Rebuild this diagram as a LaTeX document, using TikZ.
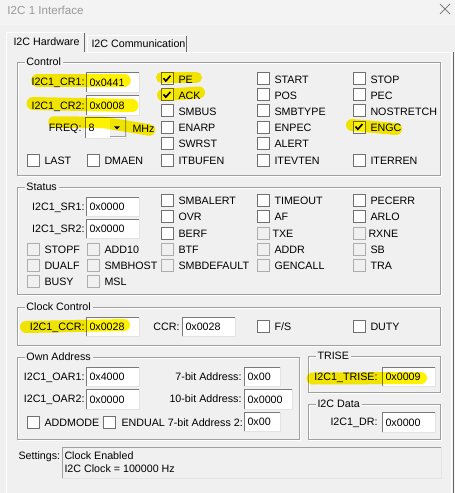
\documentclass[tikz,border=0pt]{standalone}
\usepackage{fontspec}
\setmainfont{Liberation Sans}
\usetikzlibrary{calc}
\definecolor{bg}{HTML}{F0F0F0}
\definecolor{titlebg}{HTML}{F3F3F3}
\definecolor{grp}{HTML}{A0A0A0}
\definecolor{edark}{HTML}{7A7A7A}
\definecolor{elight}{HTML}{E3E3E3}
\definecolor{cbdark}{HTML}{707070}
\definecolor{cbdisc}{HTML}{ADADAD}
\definecolor{hl}{RGB}{255,242,0}
\definecolor{titletxt}{HTML}{999999}
\definecolor{tabdark}{HTML}{696969}

\newcommand\mylabelqueue{}
% checkbox: [label offset]{name}{x left}{y center}{label}{style}
\newcommand\mycb[6][17]{%
  \node[minimum size=11pt] (#2) at (#3+6,#4) {};
  \path[#6] (#2.south west) rectangle (#2.north east);
  \expandafter\gdef\expandafter\mylabelqueue\expandafter{\mylabelqueue
    \node[anchor=base west] (#2l) at (#3+#1,{round(#4+3.8)}) {#5};}}
\newcommand\mycheck[1]{%
  \draw[line width=1.6pt] ($(#1.center)+(-3.5,-0.5)$) -- ($(#1.center)+(-1.2,2.3)$) -- ($(#1.center)+(3.5,-3)$);}
% edit: {name}{x1}{y1}{x2}{y2}{text}
\newcommand\myedit[6]{%
  \node[minimum width={#4-#2},minimum height={#5-#3},anchor=north west] (#1) at (#2,#3) {};
  \path[editbox] (#1.south west) rectangle (#1.north east);
  \draw[edark] (#1.south west) -- (#1.north west) -- (#1.north east);
  \node[anchor=base west] (#1t) at ($(#1.west)+(3,4)$) {#6};}
% group: {name}{x1}{y1}{x2}{y2}{title}
\newcommand\mygroup[6]{%
  \draw[white] (#2+1,#3+1) rectangle (#4+1,#5+1);
  \draw[grp] (#2,#3) rectangle (#4,#5);
  \node[fill=bg,inner xsep=2pt,inner ysep=1.5pt,anchor=base west] (#1) at (#2+7,#3+3.8) {#6};}

\begin{document}
\begin{tikzpicture}[x=1pt,y=-1pt,line width=1pt,
  every node/.style={inner sep=0pt,text=black,font=\fontsize{10.7}{12.8}\selectfont},
  cben/.style={draw=cbdark,fill=white},
  cbdis/.style={draw=cbdisc,fill=bg},
  editbox/.style={draw=elight,fill=white}]
\useasboundingbox (0,0) rectangle (455,493);
\fill[bg] (0,0) rectangle (455,493);
\fill[titlebg] (0,0) rectangle (455,25);
\node[anchor=base west,font=\fontsize{11.6}{14}\selectfont,text=titletxt] (title) at (7,14) {I2C 1 Interface};
\draw[gray,line width=0.8pt] (440,4) -- (450,14) (440,14) -- (450,4);

% tabs and panel
\draw[white] (6,493) -- (6,32) -- (84,32);
\draw[tabdark] (84.5,33) -- (84.5,52);
\draw[white] (87,52) -- (87,35) -- (185,35);
\draw[tabdark] (186,36) -- (186,52);
\draw[white] (85,52) -- (452,52);
\draw[white] (451,53) -- (451,493);
\draw[tabdark] (453,52) -- (453,493);
\node[anchor=base west] (tab1) at (13,45.5) {I2C Hardware};
\node[anchor=base west] (tab2) at (91,47.3) {I2C Communication};

% groups
\mygroup{gctl}{17}{62}{440}{175}{Control}
\mygroup{gsts}{17}{187}{440}{294}{Status}
\mygroup{gclk}{17}{307}{440}{345}{Clock Control}
\mygroup{gown}{17}{357}{299}{439}{Own Address}
\mygroup{gtrise}{308}{356}{440}{392}{TRISE}
\mygroup{gdata}{308}{404}{440}{439}{I2C Data}

% Control
\node[anchor=base east] (lcr1) at (85,85.5) {I2C1\_CR1:};
\myedit{ecr1}{86}{72}{138}{91}{0x0441}
\node[anchor=base east] (lcr2) at (85,109) {I2C1\_CR2:};
\myedit{ecr2}{86}{95}{138}{114}{0x0008}
\node[anchor=base east] (lfreq) at (82,131.5) {FREQ:};
\node[minimum width=40,minimum height=20,anchor=north west] (cfreq) at (85,117) {};
\path[editbox] (cfreq.south west) rectangle (cfreq.north east);
\draw[edark] (cfreq.south west) -- (cfreq.north west) -- (cfreq.north east);
\node[anchor=base west] (cfreqt) at (88,131.5) {8};
\node[minimum width=15,minimum height=17,anchor=north west] (cbtn) at (109,118.5) {};
\path[fill=bg,draw=grp] (cbtn.south west) rectangle (cbtn.north east);
\draw[white] (cbtn.south west) -- (cbtn.north west) -- (cbtn.north east);
\fill[black] ($(cbtn.center)+(-3,-1.2)$) -- ($(cbtn.center)+(3,-1.2)$) -- ($(cbtn.center)+(0,2)$) -- cycle;
\node[anchor=base west] (lmhz) at (132,132) {MHz};

\mycb{cbPE}{161}{78.7}{PE}{cben}
\mycb{cbACK}{161}{94.8}{ACK}{cben}
\mycb{cbSMBUS}{161}{110.9}{SMBUS}{cben}
\mycb{cbENARP}{161}{127}{ENARP}{cben}
\mycb{cbSWRST}{161}{143.1}{SWRST}{cben}
\mycb{cbSTART}{257}{78.7}{START}{cben}
\mycb{cbPOS}{257}{94.8}{POS}{cben}
\mycb{cbSMBTYPE}{257}{110.9}{SMBTYPE}{cben}
\mycb{cbENPEC}{257}{127}{ENPEC}{cben}
\mycb{cbALERT}{257}{143.1}{ALERT}{cben}
\mycb{cbSTOP}{353}{78.7}{STOP}{cben}
\mycb{cbPEC}{353}{94.8}{PEC}{cben}
\mycb{cbNOSTRETCH}{353}{110.9}{NOSTRETCH}{cben}
\mycb{cbENGC}{353}{127}{ENGC}{cben}
\mycb{cbLAST}{27}{160}{LAST}{cben}
\mycb{cbDMAEN}{87}{160}{DMAEN}{cben}
\mycb{cbITBUFEN}{161}{160}{ITBUFEN}{cben}
\mycb{cbITEVTEN}{257}{160}{ITEVTEN}{cben}
\mycb{cbITERREN}{353}{160}{ITERREN}{cben}
\mycheck{cbPE}
\mycheck{cbACK}
\mycheck{cbENGC}

% Status
\node[anchor=base east] (lsr1) at (85,210) {I2C1\_SR1:};
\myedit{esr1}{86}{197}{138}{215}{0x0000}
\node[anchor=base east] (lsr2) at (85,232) {I2C1\_SR2:};
\myedit{esr2}{86}{219}{138}{237}{0x0000}
\mycb{cbSMBALERT}{161}{200}{SMBALERT}{cben}
\mycb{cbOVR}{161}{216.3}{OVR}{cben}
\mycb{cbBERF}{161}{233.3}{BERF}{cben}
\mycb{cbBTF}{161}{249.5}{BTF}{cbdis}
\mycb{cbSMBDEFAULT}{161}{265}{SMBDEFAULT}{cbdis}
\mycb{cbTIMEOUT}{257}{200}{TIMEOUT}{cben}
\mycb{cbAF}{257}{216.3}{AF}{cben}
\mycb[15]{cbTXE}{257}{233.3}{TXE}{cbdis}
\mycb{cbADDR}{257}{249.5}{ADDR}{cbdis}
\mycb{cbGENCALL}{257}{265}{GENCALL}{cbdis}
\mycb{cbPECERR}{353}{200}{PECERR}{cben}
\mycb{cbARLO}{353}{216.3}{ARLO}{cben}
\mycb[15]{cbRXNE}{353}{233.3}{RXNE}{cbdis}
\mycb{cbSB}{353}{249.5}{SB}{cbdis}
\mycb{cbTRA}{353}{265}{TRA}{cbdis}
\mycb{cbSTOPF}{27}{249.5}{STOPF}{cbdis}
\mycb{cbDUALF}{27}{265}{DUALF}{cbdis}
\mycb{cbBUSY}{27}{281}{BUSY}{cbdis}
\mycb{cbADD10}{87}{249.5}{ADD10}{cbdis}
\mycb{cbSMBHOST}{87}{265}{SMBHOST}{cbdis}
\mycb{cbMSL}{87}{281}{MSL}{cbdis}

% Clock Control
\node[anchor=base east] (lccr) at (85,330) {I2C1\_CCR:};
\myedit{eccr}{86}{317}{138}{335}{0x0028}
\node[anchor=base east] (lccr2) at (180,330) {CCR:};
\myedit{eccr2}{182}{317}{234}{335}{0x0028}
\mycb{cbFS}{257}{326}{F/S}{cben}
\mycb{cbDUTY}{353}{326}{DUTY}{cben}

% Own Address
\node[anchor=base east] (loar1) at (85,380) {I2C1\_OAR1:};
\myedit{eoar1}{86}{367}{138}{385}{0x4000}
\node[anchor=base east] (loar2) at (85,402.5) {I2C1\_OAR2:};
\myedit{eoar2}{86}{389}{138}{408}{0x0000}
\node[anchor=base east] (l7bit) at (242,380) {7-bit Address:};
\myedit{e7bit}{244}{367}{279}{385}{0x00}
\node[anchor=base east] (l10bit) at (242,402.5) {10-bit Address:};
\myedit{e10bit}{244}{389}{291}{408}{0x0000}
\mycb{cbADDMODE}{27}{422.5}{ADDMODE}{cben}
\mycb[18]{cbENDUAL}{103}{422.5}{ENDUAL 7-bit Address 2:}{cben}
\myedit{e7bit2}{244}{412}{279}{430}{0x00}

% TRISE / Data
\node[anchor=base east] (ltrise) at (378,380) {I2C1\_TRISE:};
\myedit{etrise}{382}{367}{434}{385}{0x0009}
\node[anchor=base east] (ldr) at (378,425.5) {I2C1\_DR:};
\myedit{edr}{382}{412}{434}{431}{0x0000}

% Settings
\node[anchor=base west] (lset) at (18,459.5) {Settings:};
\node[minimum width=378,minimum height=30,anchor=north west] (setbox) at (62,447) {};
\path[draw=elight,fill=bg] (setbox.south west) rectangle (setbox.north east);
\draw[grp] (setbox.south west) -- (setbox.north west) -- (setbox.north east);
\node[anchor=base west] (set1) at (64,459.5) {Clock Enabled};
\node[anchor=base west] (set2) at (64,472.5) {I2C Clock = 100000 Hz};

% all checkbox labels
\mylabelqueue

% marker highlights
\begin{scope}[blend mode=multiply,draw=hl,line cap=round,line join=round]
\draw[line width=12.5pt] (37.5,80.5) -- (124.5,80.5);
\draw[line width=13pt] (33,103.5) -- (132,105.5);
\draw[line width=11.5pt] (54,122) -- (104,122.5) -- (149.5,130);
\draw[line width=11pt] (161.5,77.5) -- (196.5,77.5);
\draw[line width=12pt] (163,95) -- (199,92.5);
\draw[line width=12pt] (352,125) -- (396,129);
\draw[line width=12pt] (26,327) -- (124,325);
\draw[line width=12pt] (312.5,378.5) -- (421,378);
\end{scope}
\end{tikzpicture}
\end{document}
